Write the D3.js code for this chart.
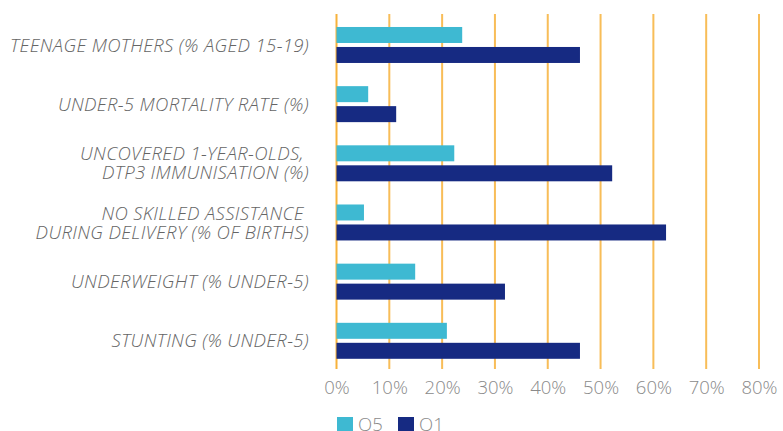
<!DOCTYPE html>
<html>
<head>
<meta charset="utf-8">
<script src="https://cdn.jsdelivr.net/npm/d3@7"></script>
<style>
  body { margin: 0; background: #fff; }
  svg { display: block; }
  .cat { font-family: "Open Sans", sans-serif; font-style: italic; font-weight: 300; font-size: 18.5px; letter-spacing: 0.35px; fill: #656565; white-space: pre; }
  .tick text { font-family: "Open Sans", sans-serif; font-weight: 300; font-size: 18.5px; fill: #8a8a8a; }
  .legend text { font-family: "Open Sans", sans-serif; font-weight: 300; font-size: 18.5px; fill: #8a8a8a; }
</style>
</head>
<body>
<svg id="chart"></svg>
<script>
const categories = [
    ["TEENAGE MOTHERS (% AGED 15-19)"],
    ["UNDER-5 MORTALITY RATE (%)"],
    ["UNCOVERED 1-YEAR-OLDS, ", "DTP3 IMMUNISATION (%)"],
    ["NO SKILLED ASSISTANCE ", "DURING DELIVERY (% OF BIRTHS)"],
    ["UNDERWEIGHT (% UNDER-5)"],
    ["STUNTING (% UNDER-5)"]
];
const q5 = [23.8, 6.0, 22.3, 5.2, 14.9, 20.9];
const q1 = [46.1, 11.3, 52.2, 62.4, 31.9, 46.1];
const seriesNames = ["Q5", "Q1"];
const seriesColors = ["#3eb9d2", "#162a82"];
const tickValues = [0, 10, 20, 30, 40, 50, 60, 70, 80];

function create_chart() {
    let width = 783;
    let height = 431;

    let svg = d3.select("#chart")
        .attr("width", width)
        .attr("height", height);

    let x = d3.scaleLinear()
        .domain([0, 80])
        .range([336.5, 759]);

    let y0 = d3.scaleBand()
        .domain(d3.range(categories.length))
        .range([14, 369])
        .padding(0);

    let y1 = d3.scaleBand()
        .domain(seriesNames)
        .range([0, y0.bandwidth()])
        .paddingInner(0.2)
        .paddingOuter(0.58)
        .align(0.56);

    // vertical grid lines
    svg.append("g")
        .selectAll("line")
        .data(tickValues)
        .enter().append("line")
        .attr("x1", function (d) { return x(d); })
        .attr("x2", function (d) { return x(d); })
        .attr("y1", 14)
        .attr("y2", 369)
        .attr("stroke", "#f7b23b")
        .attr("stroke-width", 2)
        .style("opacity", function (d) { return d === 0 ? 1 : 0.85; });

    // bars
    let data = categories.map(function (c, i) {
        return {index: i, values: [q5[i], q1[i]]};
    });

    let groups = svg.append("g")
        .selectAll("g")
        .data(data)
        .enter().append("g")
        .attr("transform", function (d) { return "translate(0," + y0(d.index) + ")"; });

    groups.selectAll("rect")
        .data(function (d) {
            return d.values.map(function (v, k) { return {key: seriesNames[k], value: v, color: seriesColors[k]}; });
        })
        .enter().append("rect")
        .attr("x", x(0))
        .attr("y", function (d) { return y1(d.key); })
        .attr("width", function (d) { return x(d.value) - x(0); })
        .attr("height", y1.bandwidth())
        .attr("fill", function (d) { return d.color; });

    // category labels
    let labels = svg.append("g")
        .selectAll("text")
        .data(data)
        .enter().append("text")
        .attr("class", "cat")
        .attr("text-anchor", "end")
        .attr("transform", function (d) {
            return "translate(309," + (y0(d.index) + y0.bandwidth() / 2 + 1.5) + ")";
        });

    labels.each(function (d) {
        let lines = categories[d.index];
        let t = d3.select(this);
        lines.forEach(function (line, k) {
            t.append("tspan")
                .attr("x", 0)
                .attr("y", (k - (lines.length - 1) / 2) * 19)
                .attr("dy", "0.35em")
                .text(line);
        });
    });

    // x axis
    let axis = svg.append("g")
        .attr("transform", "translate(0,369)")
        .call(d3.axisBottom(x)
            .tickValues(tickValues)
            .tickSize(0)
            .tickPadding(12)
            .tickFormat(function (d) { return d + "%"; }));
    axis.select(".domain").remove();

    // legend
    let legend = svg.append("g")
        .attr("class", "legend")
        .selectAll("g")
        .data(seriesNames)
        .enter().append("g")
        .attr("transform", function (d, i) { return "translate(" + (337 + i * 61) + ",417)"; });

    legend.append("rect")
        .attr("width", 16)
        .attr("height", 16)
        .attr("fill", function (d, i) { return seriesColors[i]; });

    legend.append("text")
        .attr("x", 21)
        .attr("y", 8)
        .attr("dy", "0.35em")
        .text(function (d) { return d; });
}

create_chart();
</script>
</body>
</html>
